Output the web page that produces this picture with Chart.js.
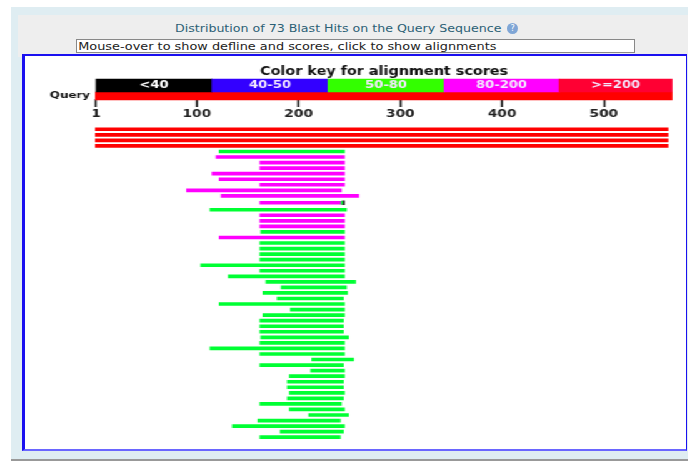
<!DOCTYPE html>
<html>
<head>
<meta charset="utf-8">
<script src="https://cdn.jsdelivr.net/npm/chart.js@4"></script>
<style>
  html, body { margin: 0; padding: 0; background: #fff; }
  #page { position: relative; width: 688px; height: 462px; overflow: hidden; filter: blur(0.55px); font-family: "DejaVu Sans", sans-serif; }
  #outer { position: absolute; left: 11px; top: 7px; right: 0; height: 454px; background: #dfedf2; border-bottom: 2px solid #999; box-sizing: border-box; }
  #inner { position: absolute; left: 18px; top: 15px; right: 0; height: 42px; background: #eeeeee; }
  #heading { position: absolute; left: 175px; top: 20px; font-size: 10.5px; line-height: 16px; color: #2b6075; white-space: nowrap; transform: scaleX(1.2); transform-origin: 0 0; }
  #help { position: absolute; left: 507px; top: 23px; width: 11px; height: 11px; border-radius: 50%; background: #7fa6d6; color: #fff; font-size: 8px; line-height: 11px; text-align: center; }
  #hover { position: absolute; left: 76px; top: 39px; width: 559px; height: 14px; box-sizing: border-box; background: #fff; border: 1px solid #888; }
  #hover span { display: block; font-size: 10.5px; line-height: 12px; padding-left: 1px; color: #222; white-space: nowrap; transform: scaleX(1.225); transform-origin: 0 0; }
  #frame { position: absolute; left: 22px; top: 54px; width: 665px; height: 397px; box-sizing: border-box; background: #fff; border-style: solid; border-color: #1a10f0 #1a10f0 #6a66ff; border-width: 2px 1.5px 2px 3px; }
  #wrap { position: absolute; left: 25px; top: 57px; width: 526.4px; height: 391px; transform: scaleX(1.25); transform-origin: 0 0; }
</style>
</head>
<body>
<div id="page">
  <div id="outer"></div>
  <div id="inner"></div>
  <div id="heading">Distribution of 73 Blast Hits on the Query Sequence</div>
  <div id="help">?</div>
  <div id="hover"><span>Mouse-over to show defline and scores, click to show alignments</span></div>
  <div id="frame"></div>
  <div id="wrap"><canvas id="c"></canvas></div>
</div>
<script>
// score classes, same order as the colour key
const keyLabels = ['<40', '40-50', '50-80', '80-200', '>=200'];
const keyColors = ['#000000', '#3300ff', '#33ff00', '#ff00ff', '#ff0033'];
const keyEdges = [1, 115, 229, 343, 456, 567];

const axisTicks = [1, 100, 200, 300, 400, 500];
const queryRange = [0, 567];

// the four full length hits
const redRows = [8, 9, 10, 11];
const redRange = [0, 563];

// other hits, top to bottom. class: 2 = 50-80, 3 = 80-200
const hitRows = [12, 13, 14, 15, 16, 17, 18, 19, 20, 21.25, 22.5, 23.5, 24.5, 25.5, 26.5, 27.5, 28.5, 29.5, 30.5, 31.5, 32.5, 33.5, 34.5, 35.5, 36.5, 37.5, 38.5, 39.5, 40.5, 41.5, 42.5, 43.5, 44.5, 45.5, 46.5, 47.5, 48.5, 49.5, 50.5, 51.5, 52.5, 53.5, 54.5, 55.5, 56.5, 57.5, 58.5, 59.5, 60.5, 61.5, 62.5, 63.5];
const hitStart = [122, 119, 162, 162, 115, 122, 162, 90, 124, 162, 113, 162, 162, 162, 163, 122, 162, 162, 162, 162, 104, 162, 131, 168, 183, 165, 179, 122, 192, 165, 162, 162, 162, 163, 162, 113, 162, 213, 162, 212, 191, 189, 189, 191, 189, 162, 191, 210, 160, 135, 182, 162];
const hitEnd = [245, 245, 245, 245, 245, 245, 245, 242, 259, 241, 247, 245, 245, 245, 245, 245, 245, 245, 245, 245, 245, 245, 245, 256, 247, 248, 244, 245, 245, 245, 244, 244, 244, 249, 245, 245, 245, 254, 244, 245, 245, 244, 244, 245, 244, 242, 245, 249, 241, 245, 244, 241];
const hitClass = [2, 3, 3, 3, 3, 3, 3, 3, 3, 3, 2, 3, 3, 3, 2, 3, 2, 2, 2, 2, 2, 2, 2, 2, 2, 2, 2, 2, 2, 2, 2, 2, 2, 2, 2, 2, 2, 2, 2, 2, 2, 2, 2, 2, 2, 2, 2, 2, 2, 2, 2, 2];

// the short hit at row 21.25 ends with two more pieces
const tailRow = 21.25;
const tailGreen = [241, 243];
const tailBlack = [243, 245];

const keyRow = 0;
const queryRow = 2;
const hitGreen = '#00ff33';

const keyText = {
  id: 'keyText',
  afterDatasetsDraw(chart) {
    const { ctx, scales } = chart;
    ctx.save();
    ctx.font = 'bold 10.5px "DejaVu Sans"';
    ctx.textAlign = 'center';
    ctx.textBaseline = 'middle';
    keyLabels.forEach((label, i) => {
      ctx.fillStyle = i === 0 ? '#ffffff' : '#f4e8ff';
      const mid = (scales.x.getPixelForValue(keyEdges[i]) + scales.x.getPixelForValue(keyEdges[i + 1])) / 2;
      ctx.fillText(label, mid, scales.y.getPixelForValue(keyRow));
    });
    ctx.restore();
  }
};

new Chart(document.getElementById('c'), {
  type: 'bar',
  plugins: [keyText],
  data: {
    datasets: [
      {
        data: keyLabels.map((l, i) => ({ x: [keyEdges[i], keyEdges[i + 1]], y: keyRow })),
        backgroundColor: keyColors,
        barThickness: 14
      },
      {
        data: [{ x: queryRange, y: queryRow }],
        backgroundColor: '#ff0000',
        barThickness: 8
      },
      {
        data: redRows.map(r => ({ x: redRange, y: r })),
        backgroundColor: '#ff0000',
        barThickness: 3
      },
      {
        data: hitRows.map((r, i) => ({ x: [hitStart[i], hitEnd[i]], y: r })),
        backgroundColor: hitClass.map(k => (k === 2 ? hitGreen : keyColors[k])),
        barThickness: 3,
        clip: false
      },
      {
        data: [{ x: tailGreen, y: tailRow }],
        backgroundColor: hitGreen,
        barThickness: 3
      },
      {
        data: [{ x: tailBlack, y: tailRow }],
        backgroundColor: '#222222',
        barThickness: 4
      }
    ]
  },
  options: {
    indexAxis: 'y',
    responsive: true,
    maintainAspectRatio: false,
    animation: false,
    borderSkipped: false,
    datasets: { bar: { grouped: false } },
    layout: { padding: { right: 8, bottom: 1 } },
    plugins: {
      legend: { display: false },
      tooltip: { enabled: false },
      title: {
        display: true,
        text: 'Color key for alignment scores',
        fullSize: false,
        color: '#111',
        font: { family: '"DejaVu Sans"', size: 11.5, weight: 'bold' },
        padding: { top: 8, bottom: 0 }
      }
    },
    scales: {
      x: {
        type: 'linear',
        min: 0,
        max: 568,
        position: { y: 2.55 },
        // sits inside the plot, should not take room in the layout
        afterFit: s => { s.height = 0; },
        afterBuildTicks: s => { s.ticks = axisTicks.map(v => ({ value: v })); },
        grid: { drawOnChartArea: false, drawTicks: true, tickLength: 8, tickWidth: 1.6, tickColor: '#111' },
        border: { display: false },
        ticks: {
          autoSkip: false,
          maxRotation: 0,
          padding: 0,
          color: '#222',
          font: { family: '"DejaVu Sans"', size: 11, weight: 'bold' }
        }
      },
      y: {
        type: 'linear',
        offset: false,
        reverse: true,
        min: -1.1,
        max: 63.7,
        afterFit: s => { s.width = 56; },
        afterBuildTicks: s => { s.ticks = [{ value: queryRow }]; },
        grid: { display: false, drawTicks: false },
        border: { display: false },
        ticks: {
          padding: 4,
          color: '#111',
          font: { family: '"DejaVu Sans"', size: 9.5, weight: 'bold' },
          callback: () => 'Query'
        }
      }
    }
  }
});
</script>
</body>
</html>
